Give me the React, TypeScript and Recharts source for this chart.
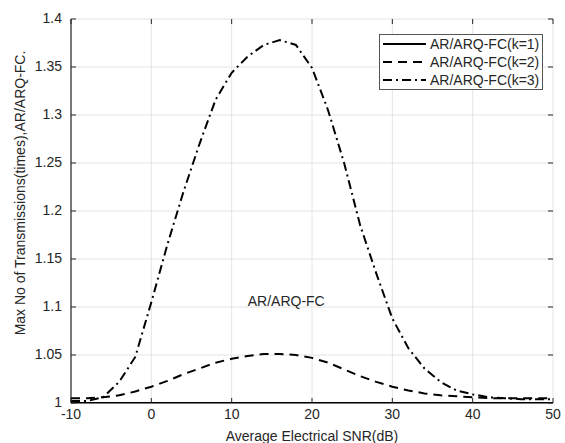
import React from 'react'
import {
    LineChart, Line, XAxis, YAxis, CartesianGrid, Legend, ReferenceDot
} from 'recharts'

// SNR axis (dB), sampled every 2 dB
const snr = [-10, -8, -6, -4, -2, 0, 2, 4, 6, 8, 10, 12, 14, 16, 18, 20, 22, 24, 26, 28, 30, 32, 34, 36, 38, 40, 42, 44, 46, 48, 50]

const k1 = [1, 1, 1, 1, 1, 1, 1, 1, 1, 1, 1, 1, 1, 1, 1, 1, 1, 1, 1, 1, 1, 1, 1, 1, 1, 1, 1, 1, 1, 1, 1]
const k2 = [1.005, 1.005, 1.006, 1.008, 1.012, 1.017, 1.023, 1.030, 1.036, 1.042, 1.046, 1.049, 1.051, 1.051, 1.050, 1.047, 1.042, 1.035, 1.028, 1.022, 1.017, 1.013, 1.010, 1.008, 1.007, 1.006, 1.005, 1.005, 1.005, 1.005, 1.005]
const k3 = [1.002, 1.002, 1.006, 1.022, 1.048, 1.105, 1.165, 1.22, 1.27, 1.316, 1.344, 1.361, 1.373, 1.378, 1.373, 1.349, 1.305, 1.25, 1.185, 1.135, 1.088, 1.057, 1.036, 1.022, 1.013, 1.009, 1.006, 1.005, 1.004, 1.004, 1.004]

const xTicks = [-10, 0, 10, 20, 30, 40, 50]
const yTicks = [1, 1.05, 1.1, 1.15, 1.2, 1.25, 1.3, 1.35, 1.4]

const series = [
    { key: 'k1', name: 'AR/ARQ-FC(k=1)', dash: undefined },
    { key: 'k2', name: 'AR/ARQ-FC(k=2)', dash: '9 6' },
    { key: 'k3', name: 'AR/ARQ-FC(k=3)', dash: '9 4 2 4' },
]

const data = snr.map((x, i) => ({ snr: x, k1: k1[i], k2: k2[i], k3: k3[i] }))

const W = 565
const H = 443
const M = { top: 19, right: 12, left: 0, bottom: 0 }
const YW = 71
const XH = 40
const PL = M.left + YW
const PR = W - M.right
const PT = M.top
const PB = H - XH

const FONT = 'Arial, "Liberation Sans", Helvetica, sans-serif'
const INK = '#262626'

const YTick = ({ y, payload }: any) => (
    <g>
        <text x={PL - 9} y={y - 1} textAnchor="end" dominantBaseline="central" fontSize={14} fill={INK} fontFamily={FONT}>{payload.value}</text>
        <line x1={PL} x2={PL + 5} y1={y} y2={y} stroke={INK} />
        <line x1={PR - 5} x2={PR} y1={y} y2={y} stroke={INK} />
    </g>
)

const XTick = ({ x, payload }: any) => (
    <g>
        <text x={x} y={PB + 11} textAnchor="middle" dominantBaseline="central" fontSize={14} fill={INK} fontFamily={FONT}>{payload.value}</text>
        <line x1={x} x2={x} y1={PB} y2={PB - 5} stroke={INK} />
        <line x1={x} x2={x} y1={PT} y2={PT + 5} stroke={INK} />
    </g>
)

const LegendBox = () => (
    <div style={{ border: '1px solid #555', background: '#fff', width: 162, fontFamily: FONT, fontSize: 14, color: INK }}>
        {series.map(s => (
            <div key={s.key} style={{ display: 'flex', alignItems: 'center', height: 18 }}>
                <svg width={50} height={18}>
                    <line x1={3} x2={46} y1={9} y2={9} stroke="#000" strokeWidth={2} strokeDasharray={s.dash} />
                </svg>
                <span style={{ lineHeight: '18px' }}>{s.name}</span>
            </div>
        ))}
    </div>
)

export default function App() {
    return (
        <div style={{ position: 'absolute', left: 0, top: 0, background: '#fff' }}>
            <LineChart width={W} height={H} data={data} margin={M}>
                <CartesianGrid stroke="#e4e4e4" strokeWidth={1} />
                <XAxis
                    dataKey="snr" type="number" domain={[-10, 50]} ticks={xTicks} allowDataOverflow
                    height={XH} stroke="#000" tickLine={false} tick={<XTick />} interval={0}
                    label={{
                        content: () => (
                            <text x={(PL + PR) / 2} y={436} textAnchor="middle" dominantBaseline="central" fontSize={14} fill={INK} fontFamily={FONT}>
                                Average Electrical SNR(dB)
                            </text>
                        )
                    }}
                />
                <XAxis xAxisId="top" orientation="top" dataKey="snr" type="number" domain={[-10, 50]} height={0} stroke="#000" tick={false} tickLine={false} />
                <YAxis
                    type="number" domain={[1, 1.4]} ticks={yTicks} allowDataOverflow
                    width={YW} stroke="#000" tickLine={false} tick={<YTick />} interval={0}
                    label={{
                        content: () => (
                            <text x={20} y={193} transform="rotate(-90 20 193)" textAnchor="middle" dominantBaseline="central" fontSize={14} fill={INK} fontFamily={FONT}>
                                Max No of Transmissions(times),AR/ARQ-FC.
                            </text>
                        )
                    }}
                />
                <YAxis yAxisId="right" orientation="right" type="number" domain={[1, 1.4]} width={0} stroke="#000" tick={false} tickLine={false} />
                {series.map(s => (
                    <Line
                        key={s.key} dataKey={s.key} name={s.name} type="linear"
                        stroke="#000" strokeWidth={2} strokeDasharray={s.dash}
                        dot={false} activeDot={false} isAnimationActive={false}
                    />
                ))}
                <ReferenceDot
                    x={12} y={1.106} r={0} ifOverflow="visible"
                    label={{
                        content: ({ viewBox }: any) => (
                            <text x={viewBox.x} y={viewBox.y} textAnchor="start" dominantBaseline="central" fontSize={14} fill={INK} fontFamily={FONT}>
                                AR/ARQ-FC
                            </text>
                        )
                    }}
                />
                <Legend
                    layout="horizontal" verticalAlign="middle" align="center"
                    wrapperStyle={{ position: 'absolute', top: 34, left: 379, width: 164, height: 56 }}
                    content={() => <LegendBox />}
                />
            </LineChart>
        </div>
    )
}
